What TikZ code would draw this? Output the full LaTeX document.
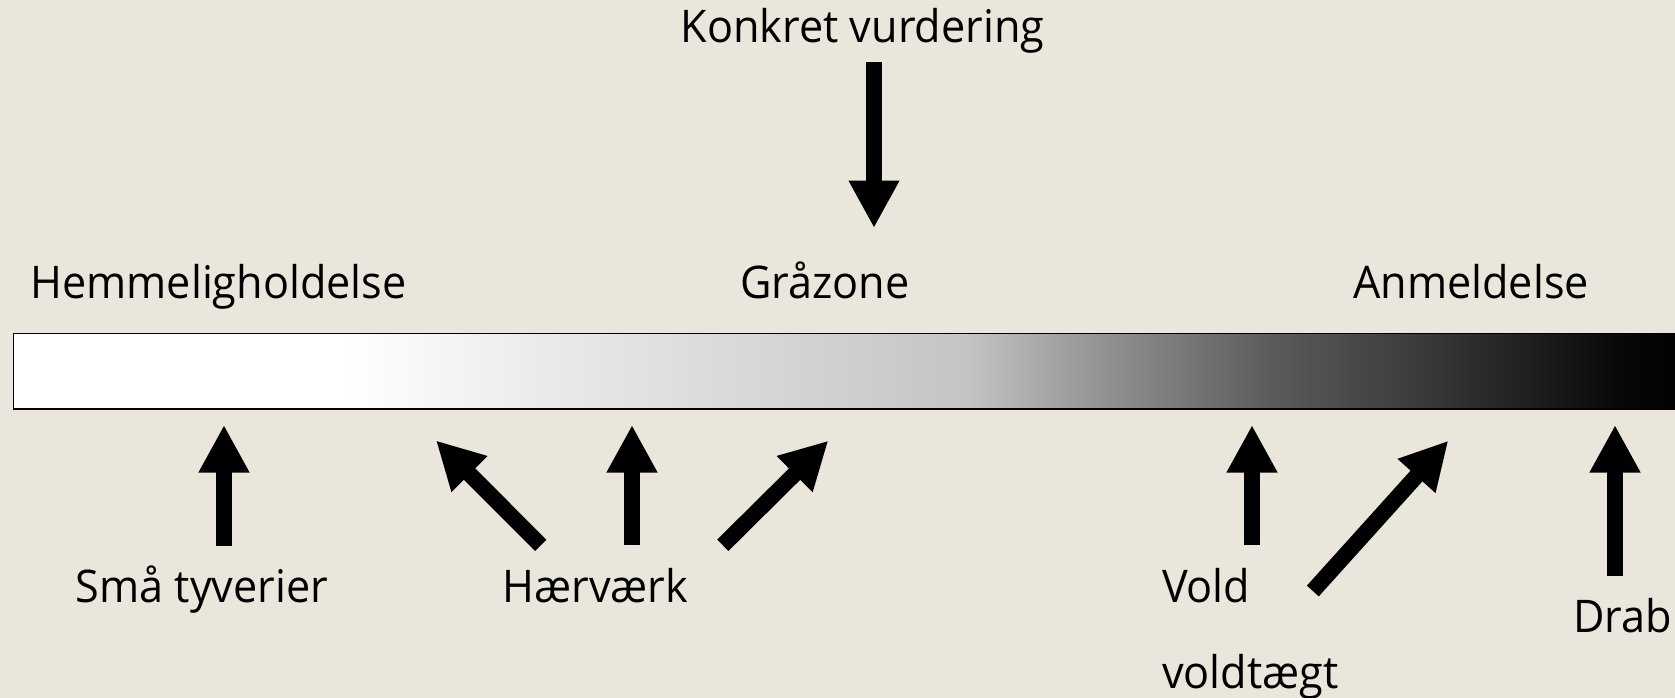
\documentclass[tikz,border=0pt]{standalone}
\usepackage{fontspec}
\setmainfont[FakeStretch=0.96]{Open Sans}
\usetikzlibrary{arrows.meta}
\definecolor{bgc}{RGB}{234,230,220}
\definecolor{ga}{RGB}{232,232,232}
\definecolor{gb}{RGB}{196,196,196}
\definecolor{gc}{RGB}{150,150,150}
\definecolor{gd}{RGB}{92,92,92}
\definecolor{ge}{RGB}{53,53,53}
\definecolor{gf}{RGB}{8,8,8}
\pgfdeclarehorizontalshading{bargrad}{100bp}{color(0bp)=(white); color(34.9bp)=(white); color(41.5bp)=(ga); color(53.5bp)=(gb); color(57.2bp)=(gc); color(62.5bp)=(gd); color(67.7bp)=(ge); color(73bp)=(gf); color(75bp)=(black); color(100bp)=(black)}
\begin{document}
\begin{tikzpicture}[x=1pt,y=-1pt,
  lbl/.style={inner sep=0pt, outer sep=0pt, font=\fontsize{45}{52}\selectfont, text=black},
  blockarrow/.style={line width=16pt, line cap=butt, -{Triangle[length=47.5pt,width=47.5pt]}}]
  \fill[bgc] (0,0) rectangle (1675,698);
  \useasboundingbox (0,0) rectangle (1675,698);
  % bar
  \node[draw=black, line width=1.5pt, shading=bargrad, minimum width=1673pt, minimum height=75.5pt, inner sep=0pt, anchor=north west] (bar) at (12.75,332.75) {};
  % labels
  \node[lbl, anchor=base] (konkret) at (862.5,43) {Konkret vurdering};
  \node[lbl, anchor=base] (hemm) at (218.5,298) {Hemmeligholdelse};
  \node[lbl, anchor=base] (graa) at (825,298) {Gråzone};
  \node[lbl, anchor=base] (anm) at (1471,298) {Anmeldelse};
  \node[lbl, anchor=base] (smaa) at (202,602.5) {Små tyverier};
  \node[lbl, anchor=base] (haer) at (595.5,602) {Hærværk};
  \node[lbl, anchor=base west] (vold) at (1162,602) {Vold};
  \node[lbl, anchor=base west] (voldt) at (1162,688) {voldtægt};
  \node[lbl, anchor=base] (drab) at (1622.5,632) {Drab};
  % arrow ends
  \coordinate (kT) at (874,62);    \coordinate (kH) at (874,228);
  \coordinate (sT) at (224,546);   \coordinate (sH) at (224,425);
  \coordinate (h1T) at (540.7,545.3); \coordinate (h1H) at (436,440.5);
  \coordinate (h2T) at (632,545.3);   \coordinate (h2H) at (632,425);
  \coordinate (h3T) at (722.8,545.3); \coordinate (h3H) at (828.3,440.7);
  \coordinate (v1T) at (1252,545.3);  \coordinate (v1H) at (1252,425);
  \coordinate (v2T) at (1312.8,591);  \coordinate (v2H) at (1448.3,440.7);
  \coordinate (dT) at (1615,576);  \coordinate (dH) at (1615,425);
  \draw[blockarrow] (kT) -- (kH);
  \draw[blockarrow] (sT) -- (sH);
  \draw[blockarrow] (h1T) -- (h1H);
  \draw[blockarrow] (h2T) -- (h2H);
  \draw[blockarrow] (h3T) -- (h3H);
  \draw[blockarrow] (v1T) -- (v1H);
  \draw[blockarrow] (v2T) -- (v2H);
  \draw[blockarrow] (dT) -- (dH);
\end{tikzpicture}
\end{document}
